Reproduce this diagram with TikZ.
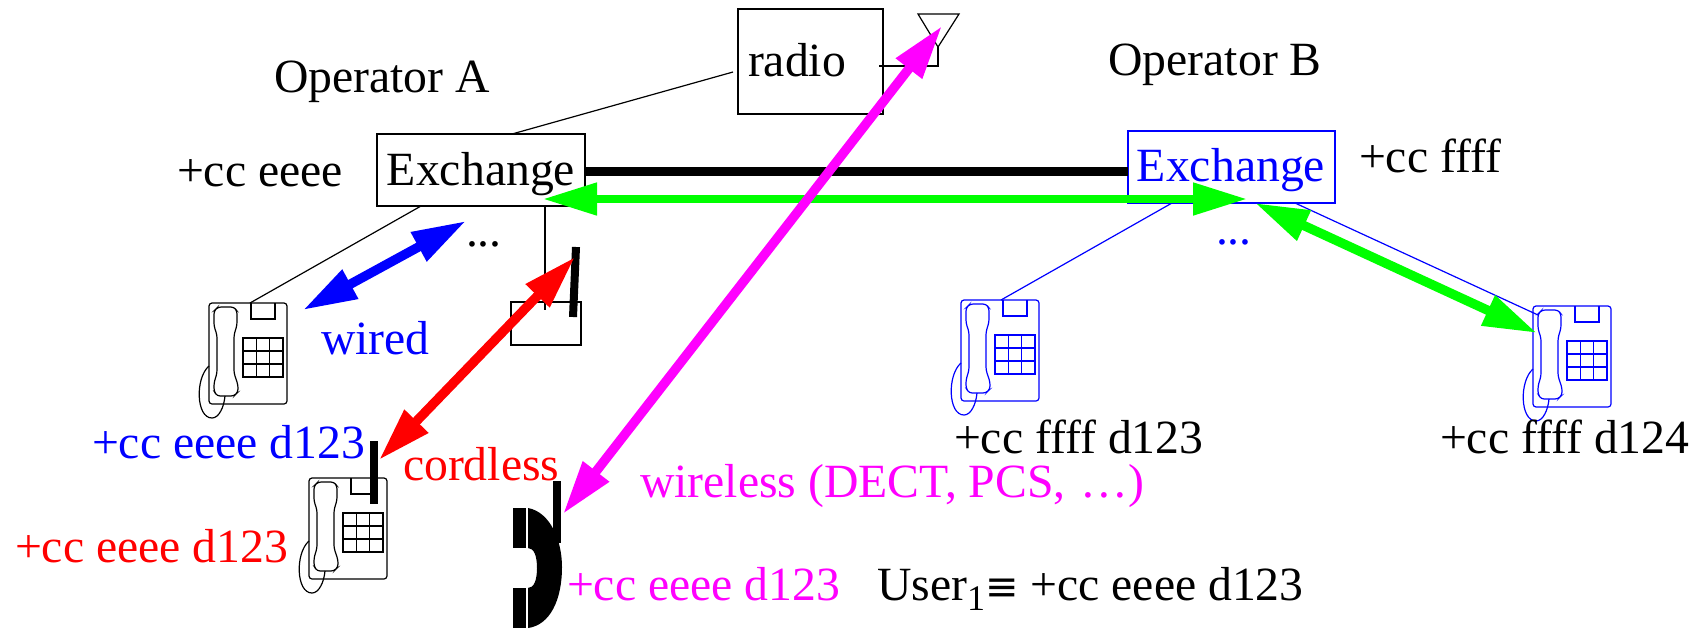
\documentclass[tikz,border=0pt]{standalone}
\usepackage{fontspec}
\setmainfont{Liberation Serif}
\newfontfamily\symfont{DejaVu Sans}
\usetikzlibrary{arrows.meta}
\definecolor{mgt}{RGB}{255,0,255}
\definecolor{grn}{RGB}{0,255,0}
\tikzset{
  x=0.5pt,y=-0.5pt,
  lbl/.style={anchor=base west,inner sep=0pt,outer sep=0pt,font=\fontsize{23.85}{26}\selectfont},
  clbl/.style={anchor=base,inner sep=0pt,outer sep=0pt,font=\fontsize{23.85}{26}\selectfont},
  thin line/.style={line width=0.6pt},
  boxed/.style={draw,line width=0.6pt,rectangle,inner sep=0pt,outer sep=0pt,minimum width=#1},
  dblarrow/.style={line width=#1,{Triangle[length=27pt,width=15.5pt]}-{Triangle[length=27pt,width=15.5pt]}},
  ant/.style={line width=4pt,black},
  phone/.pic={
    \draw[line width=0.6pt,rounded corners=1.5pt] (0,0) rectangle (78,101);
    \draw[line width=0.6pt] (42,0) -- (42,16) -- (66,16) -- (66,0);
    \draw[line width=0.6pt] (34,35) rectangle (74,74);
    \draw[line width=0.6pt] (47.3,35) -- (47.3,74) (60.7,35) -- (60.7,74) (34,48) -- (74,48) (34,61) -- (74,61);
    \draw[line width=0.6pt,rounded corners=1.5pt] (9,4) -- (25,4) -- (28,8) -- (28,22) -- (25,32) -- (25,70) -- (29,82) -- (29,89) -- (25,93) -- (8,93) -- (5,88) -- (5,80) -- (8,70) -- (8,32) -- (5,23) -- (5,8) -- cycle;
    \draw[line width=0.6pt] (0,63) .. controls (-14,75) and (-13,115) .. (3,115) .. controls (10,115) and (15,104) .. (16,93);
  }
}
\begin{document}
\begin{tikzpicture}
\useasboundingbox (0,0) rectangle (1707,628);
% coordinates
\coordinate (bla) at (466,221); \coordinate (blb) at (303,310);
\coordinate (rda) at (575,257); \coordinate (rdb) at (379,460);
\coordinate (mga) at (942,26); \coordinate (mgb) at (563,514);
\coordinate (gna) at (543,199); \coordinate (gnb) at (1247,199);
\coordinate (gca) at (1255,203); \coordinate (gcb) at (1537,333);
\coordinate (ph1) at (250,303); \coordinate (ph2) at (1001,300); \coordinate (ph3) at (1538,315);
\coordinate (exa1) at (421,206); \coordinate (exa2) at (545,206); \coordinate (exa3) at (512,134);
\coordinate (exb1) at (1172,203); \coordinate (exb2) at (1295,203);
\coordinate (rad1) at (733,72);
\coordinate (rad2) at (879,66); \coordinate (rad3) at (938,66); \coordinate (antb) at (938,47);
\coordinate (cbt) at (545,310);
% boxes
\node[boxed=72.5pt,minimum height=52.5pt] (radio) at (810.5,61.5) {};
\node[clbl] (radiot) at (797,76) {radio};
\node[boxed=104pt,minimum height=36pt] (exA) at (481,170) {};
\node[clbl] (exAt) at (481,185) {Exchange};
\node[boxed=103.5pt,minimum height=36pt,draw=blue] (exB) at (1231.5,167) {};
\node[clbl,text=blue] (exBt) at (1231,181) {Exchange};
\node[boxed=35pt,minimum height=21.5pt] (base) at (546,323.5) {};
% antenna
\node[inner sep=0pt,minimum size=0pt] (anttip) at (938,47) {};
\draw[line width=0.6pt] (918,14) -- (959,14) -- (anttip.center) -- cycle;
\draw[line width=0.6pt] (rad2) -- (rad3) -- (antb);
% lines
\draw[thin line] (rad1) -- (exa3);
\draw[thin line] (exa1) -- (ph1);
\draw[thin line] (exa2) -- (cbt);
\draw[thin line,blue] (exb1) -- (ph2);
\draw[thin line,blue] (exb2) -- (ph3);
\draw[line width=4.5pt] (exA.east |- 0,171) -- (exB.west |- 0,171);
% phones
\pic at (209,303) {phone};
\pic at (309,478) {phone};
\pic[blue] at (961,300) {phone};
\pic[blue] at (1533,306) {phone};
% antennas
\draw[ant] (576,247) -- (573,317);
\draw[ant] (374,441) -- (374,504);
\draw[ant] (557,481) -- (557,543);
% handset
\fill (513,508) rectangle (526,548);
\fill (513,588) rectangle (526,628);
\fill (528,508) .. controls (550,512) and (562,540) .. (562,567) .. controls (562,600) and (550,625) .. (528,628) -- (528,588) .. controls (534,588) and (537,580) .. (537,568) .. controls (537,556) and (534,548) .. (528,548) -- cycle;
% arrows
\draw[dblarrow=4pt,grn] (gna) -- (gnb);
\draw[dblarrow=4.7pt,grn] (gca) -- (gcb);
\draw[dblarrow=4.7pt,blue] (bla) -- (blb);
\draw[dblarrow=4.7pt,red] (rda) -- (rdb);
\draw[dblarrow=4.7pt,mgt] (mga) -- (mgb);
% labels
\node[clbl] (opa) at (382,92) {Operator A};
\node[clbl] (opb) at (1215,75) {Operator B};
\node[lbl] (cce) at (177,186) {+cc eeee};
\node[lbl] (ccf) at (1359,172) {+cc ffff};
\node[lbl] (dots1) at (466,246) {...};
\node[lbl,text=blue] (dots2) at (1216,244) {...};
\node[lbl,text=blue] (wired) at (321,354) {wired};
\node[lbl,text=blue] (num1) at (92,458) {+cc eeee d123};
\node[lbl,text=red] (cordless) at (403,480) {cordless};
\node[lbl,text=red] (num2) at (15,562) {+cc eeee d123};
\node[lbl,text=mgt] (num3) at (567,600) {+cc eeee d123};
\node[lbl] (user) at (877,600) {User\raisebox{-5pt}{\fontsize{18}{20}\selectfont 1}{\symfont\fontsize{20}{22}\selectfont ≡} +cc eeee d123};
\node[lbl,text=mgt] (wireless) at (640,497) {wireless (DECT, PCS, \kern1.5pt…)};
\node[lbl] (num4) at (954,453) {+cc ffff d123};
\node[lbl] (num5) at (1440,453) {+cc ffff d124};
\end{tikzpicture}
\end{document}
